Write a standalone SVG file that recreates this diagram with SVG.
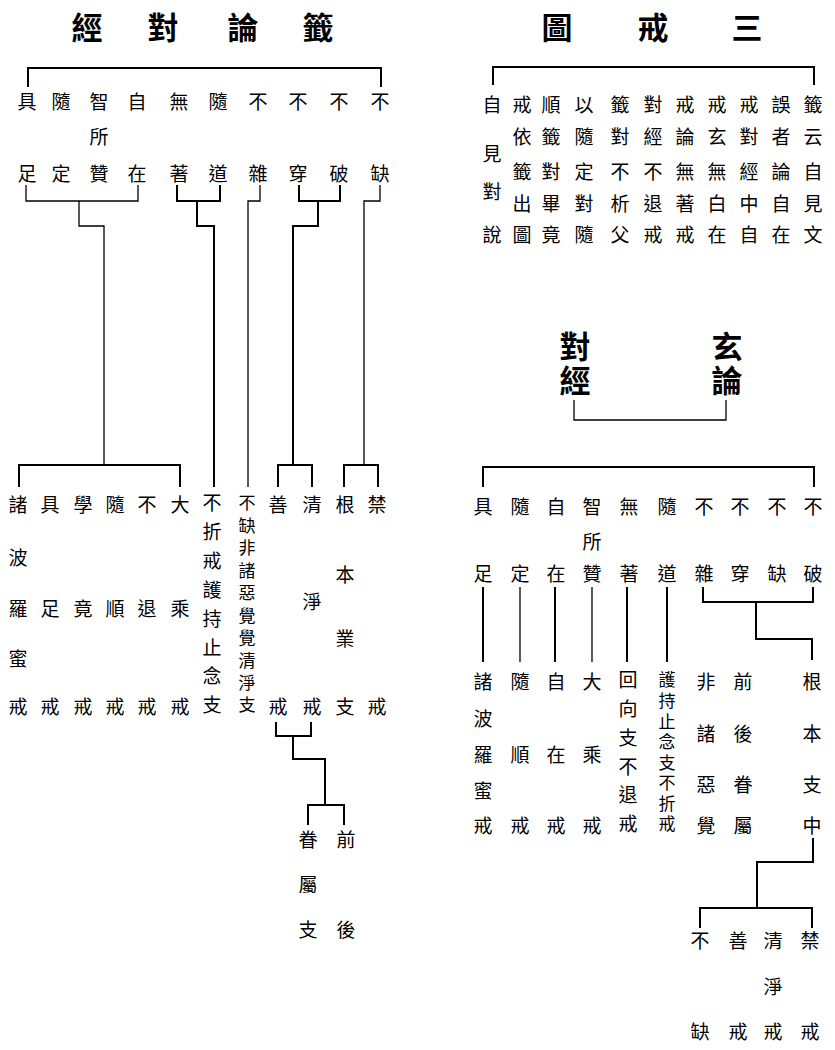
<svg xmlns="http://www.w3.org/2000/svg" width="835" height="1050" viewBox="0 0 835 1050">
<style>
text{font-family:"Noto Sans CJK TC","Noto Sans CJK JP",sans-serif;text-anchor:middle;dominant-baseline:central;fill:#000}
.t{font-size:19px}
.h{font-size:31px;font-weight:bold}
.v{writing-mode:vertical-rl;text-anchor:start}
.c path{fill:none;stroke:#000;stroke-width:2}
.c path.n{stroke-width:1.3}
</style>
<rect width="835" height="1050" fill="#fff"/>
<g id="title-left">
<text class="h" x="87" y="25">經</text><text class="h" x="163" y="25">對</text><text class="h" x="243" y="25">論</text><text class="h" x="318" y="25">籤</text>
</g>
<g id="title-right">
<text class="h" x="557" y="25">圖</text><text class="h" x="653" y="25">戒</text><text class="h" x="747" y="25">三</text>
</g>
<g id="L1"><text class="t" x="27" y="100">具</text><text class="t" x="27" y="172">足</text></g>
<g id="L2"><text class="t" x="61" y="100">隨</text><text class="t" x="61" y="172">定</text></g>
<g id="L3"><text class="t" x="99" y="100">智</text><text class="t" x="99" y="135">所</text><text class="t" x="99" y="172">贊</text></g>
<g id="L4"><text class="t" x="137" y="100">自</text><text class="t" x="137" y="172">在</text></g>
<g id="L5"><text class="t" x="179" y="100">無</text><text class="t" x="179" y="172">著</text></g>
<g id="L6"><text class="t" x="218" y="100">隨</text><text class="t" x="218" y="172">道</text></g>
<g id="L7"><text class="t" x="258" y="100">不</text><text class="t" x="258" y="172">雜</text></g>
<g id="L8"><text class="t" x="298" y="100">不</text><text class="t" x="298" y="172">穿</text></g>
<g id="L9"><text class="t" x="339" y="100">不</text><text class="t" x="339" y="172">破</text></g>
<g id="L10"><text class="t" x="380" y="100">不</text><text class="t" x="380" y="172">缺</text></g>
<g id="LB1"><text class="t" x="18" y="503">諸</text><text class="t" x="18" y="556">波</text><text class="t" x="18" y="607">羅</text><text class="t" x="18" y="657">蜜</text><text class="t" x="18" y="705">戒</text></g>
<g id="LB2"><text class="t" x="50" y="503">具</text><text class="t" x="50" y="607">足</text><text class="t" x="50" y="705">戒</text></g>
<g id="LB3"><text class="t" x="83" y="503">學</text><text class="t" x="83" y="607">竟</text><text class="t" x="83" y="705">戒</text></g>
<g id="LB4"><text class="t" x="115" y="503">隨</text><text class="t" x="115" y="607">順</text><text class="t" x="115" y="705">戒</text></g>
<g id="LB5"><text class="t" x="147" y="503">不</text><text class="t" x="147" y="607">退</text><text class="t" x="147" y="705">戒</text></g>
<g id="LB6"><text class="t" x="180" y="503">大</text><text class="t" x="180" y="607">乘</text><text class="t" x="180" y="705">戒</text></g>
<g id="LB7"><text class="v" x="212" y="493.5" style="font-size:19px;letter-spacing:9.86px">不折戒護持止念支</text></g>
<g id="LB8"><text class="v" x="247" y="494.5" style="font-size:17px;letter-spacing:5.44px">不缺非諸惡覺覺清淨支</text></g>
<g id="LB9"><text class="t" x="278" y="503">善</text><text class="t" x="278" y="705">戒</text></g>
<g id="LB10"><text class="t" x="312" y="503">清</text><text class="t" x="312" y="600">淨</text><text class="t" x="312" y="705">戒</text></g>
<g id="LB11"><text class="t" x="345" y="503">根</text><text class="t" x="345" y="573">本</text><text class="t" x="345" y="637">業</text><text class="t" x="345" y="705">支</text></g>
<g id="LB12"><text class="t" x="377" y="503">禁</text><text class="t" x="377" y="705">戒</text></g>
<g id="LC1"><text class="t" x="308" y="838">眷</text><text class="t" x="308" y="883">屬</text><text class="t" x="308" y="928">支</text></g>
<g id="LC2"><text class="t" x="346" y="838">前</text><text class="t" x="346" y="928">後</text></g>
<g id="R-grid">
<text class="t" x="492" y="103">自</text><text class="t" x="492" y="152">見</text><text class="t" x="492" y="190">對</text><text class="t" x="492" y="233">說</text>
<text class="t" x="522" y="103">戒</text><text class="t" x="522" y="135">依</text><text class="t" x="522" y="170">籤</text><text class="t" x="522" y="202">出</text><text class="t" x="522" y="233">圖</text>
<text class="t" x="551" y="103">順</text><text class="t" x="551" y="135">籤</text><text class="t" x="551" y="170">對</text><text class="t" x="551" y="202">畢</text><text class="t" x="551" y="233">竟</text>
<text class="t" x="584" y="103">以</text><text class="t" x="584" y="135">隨</text><text class="t" x="584" y="170">定</text><text class="t" x="584" y="202">對</text><text class="t" x="584" y="233">隨</text>
<text class="t" x="620" y="103">籤</text><text class="t" x="620" y="135">對</text><text class="t" x="620" y="170">不</text><text class="t" x="620" y="202">析</text><text class="t" x="620" y="233">父</text>
<text class="t" x="653" y="103">對</text><text class="t" x="653" y="135">經</text><text class="t" x="653" y="170">不</text><text class="t" x="653" y="202">退</text><text class="t" x="653" y="233">戒</text>
<text class="t" x="685" y="103">戒</text><text class="t" x="685" y="135">論</text><text class="t" x="685" y="170">無</text><text class="t" x="685" y="202">著</text><text class="t" x="685" y="233">戒</text>
<text class="t" x="717" y="103">戒</text><text class="t" x="717" y="135">玄</text><text class="t" x="717" y="170">無</text><text class="t" x="717" y="202">白</text><text class="t" x="717" y="233">在</text>
<text class="t" x="749" y="103">戒</text><text class="t" x="749" y="135">對</text><text class="t" x="749" y="170">經</text><text class="t" x="749" y="202">中</text><text class="t" x="749" y="233">自</text>
<text class="t" x="781" y="103">誤</text><text class="t" x="781" y="135">者</text><text class="t" x="781" y="170">論</text><text class="t" x="781" y="202">自</text><text class="t" x="781" y="233">在</text>
<text class="t" x="813" y="103">籤</text><text class="t" x="813" y="135">云</text><text class="t" x="813" y="170">自</text><text class="t" x="813" y="202">見</text><text class="t" x="813" y="233">文</text>
</g>
<g id="R-mid-a"><text class="v" x="575" y="330.5" style="font-size:31px;font-weight:bold;letter-spacing:3px">對經</text></g>
<g id="R-mid-b"><text class="v" x="727" y="330.5" style="font-size:31px;font-weight:bold;letter-spacing:3px">玄論</text></g>
<g id="R1"><text class="t" x="483" y="505">具</text><text class="t" x="483" y="572">足</text></g>
<g id="R2"><text class="t" x="520" y="505">隨</text><text class="t" x="520" y="572">定</text></g>
<g id="R3"><text class="t" x="556" y="505">自</text><text class="t" x="556" y="572">在</text></g>
<g id="R4"><text class="t" x="592" y="505">智</text><text class="t" x="592" y="540">所</text><text class="t" x="592" y="572">贊</text></g>
<g id="R5"><text class="t" x="629" y="505">無</text><text class="t" x="629" y="572">著</text></g>
<g id="R6"><text class="t" x="667" y="505">隨</text><text class="t" x="667" y="572">道</text></g>
<g id="R7"><text class="t" x="704" y="505">不</text><text class="t" x="704" y="572">雜</text></g>
<g id="R8"><text class="t" x="740" y="505">不</text><text class="t" x="740" y="572">穿</text></g>
<g id="R9"><text class="t" x="777" y="505">不</text><text class="t" x="777" y="572">缺</text></g>
<g id="R10"><text class="t" x="813" y="505">不</text><text class="t" x="813" y="572">破</text></g>
<g id="RB1"><text class="t" x="483" y="680">諸</text><text class="t" x="483" y="717">波</text><text class="t" x="483" y="753">羅</text><text class="t" x="483" y="789">蜜</text><text class="t" x="483" y="824">戒</text></g>
<g id="RB2"><text class="t" x="520" y="680">隨</text><text class="t" x="520" y="753">順</text><text class="t" x="520" y="824">戒</text></g>
<g id="RB3"><text class="t" x="556" y="680">自</text><text class="t" x="556" y="753">在</text><text class="t" x="556" y="824">戒</text></g>
<g id="RB4"><text class="t" x="592" y="680">大</text><text class="t" x="592" y="753">乘</text><text class="t" x="592" y="824">戒</text></g>
<g id="RB5"><text class="v" x="628" y="670.5" style="font-size:19px;letter-spacing:9.8px">回向支不退戒</text></g>
<g id="RB6"><text class="v" x="667" y="671.5" style="font-size:17px;letter-spacing:3.57px">護持止念支不折戒</text></g>
<g id="RB7"><text class="t" x="706" y="680">非</text><text class="t" x="706" y="732">諸</text><text class="t" x="706" y="783">惡</text><text class="t" x="706" y="824">覺</text></g>
<g id="RB8"><text class="t" x="743" y="680">前</text><text class="t" x="743" y="732">後</text><text class="t" x="743" y="783">眷</text><text class="t" x="743" y="824">屬</text></g>
<g id="RB9"><text class="t" x="812" y="680">根</text><text class="t" x="812" y="732">本</text><text class="t" x="812" y="783">支</text><text class="t" x="812" y="824">中</text></g>
<g id="RC1"><text class="t" x="700" y="939">不</text><text class="t" x="700" y="1030">缺</text></g>
<g id="RC2"><text class="t" x="738" y="939">善</text><text class="t" x="738" y="1030">戒</text></g>
<g id="RC3"><text class="t" x="773" y="939">清</text><text class="t" x="773" y="985">淨</text><text class="t" x="773" y="1030">戒</text></g>
<g id="RC4"><text class="t" x="810" y="939">禁</text><text class="t" x="810" y="1030">戒</text></g>
<g id="connectors" class="c">
<path d="M28,87 V68 H381 V87"/>
<path class="n" d="M26,185 V201 H138 V185"/>
<path class="n" d="M79,201 V226 H104 V465"/>
<path d="M19,487 V465 H180 V487"/>
<path d="M177,185 V201 H220 V185"/>
<path d="M197,201 V226 H214 V487"/>
<path class="n" d="M260,185 V201 H248 V487"/>
<path d="M299,185 V201 H340 V185"/>
<path d="M318,201 V226 H293 V465"/>
<path d="M278,487 V465 H312 V487"/>
<path class="n" d="M380,185 V201 H364 V465"/>
<path d="M344,487 V465 H378 V487"/>
<path d="M276,722 V736 H311 V722"/>
<path d="M293,736 V759 H325 V805"/>
<path d="M308,825 V805 H344 V825"/>
<path d="M493,85 V67 H814 V85"/>
<path class="n" d="M574,400 V420 H726 V400"/>
<path d="M483,487 V467 H814 V487"/>
<path d="M483,587 V662"/>
<path class="n" d="M520,587 V662"/>
<path d="M555,587 V662"/>
<path class="n" d="M592,587 V662"/>
<path d="M627,587 V662"/>
<path d="M667,587 V662"/>
<path d="M703,587 V602 H813 V587"/>
<path d="M756,602 V639 H812 V660"/>
<path d="M813,838 V862 H757 V908"/>
<path d="M700,928 V908 H812 V928"/>
</g>
</svg>
